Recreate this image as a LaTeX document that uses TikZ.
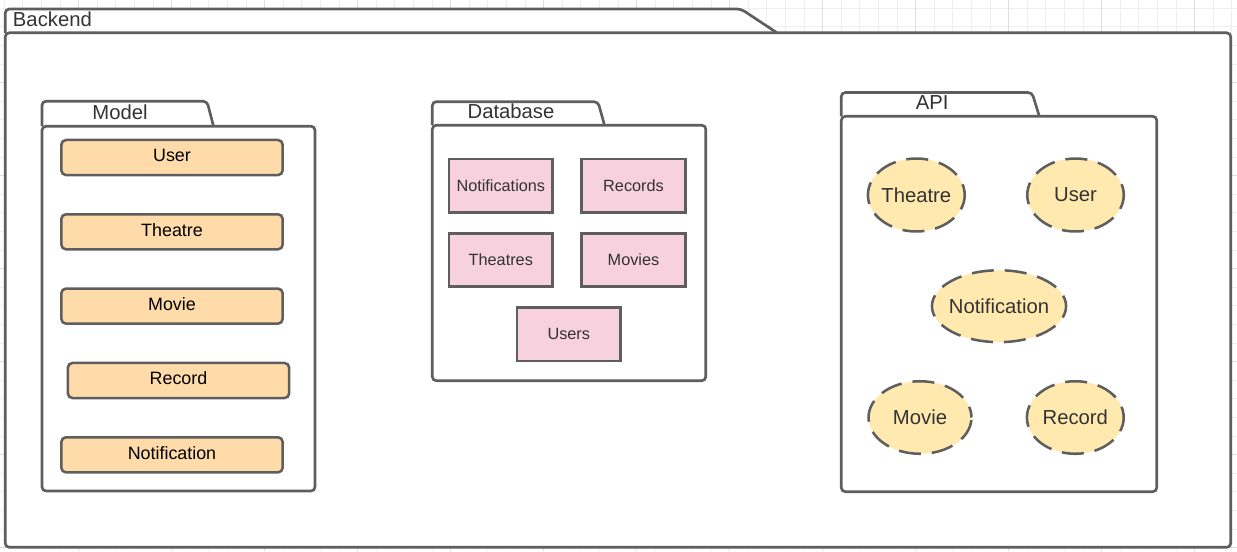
\documentclass[tikz,border=0pt]{standalone}
\usepackage{fontspec}
\setmainfont{Liberation Sans}
\usetikzlibrary{shapes.geometric}
\definecolor{linec}{HTML}{5E5E5E}
\definecolor{txtc}{HTML}{333333}
\definecolor{peach}{HTML}{FFDBA9}
\definecolor{pinkc}{HTML}{F8D1DE}
\definecolor{yelc}{HTML}{FFE9AF}
\definecolor{gridminor}{HTML}{EEEEEE}
\definecolor{gridmajor}{HTML}{DEDEDE}
\tikzset{
  pkgline/.style={draw=linec, line width=2pt, fill=white, rounded corners=3pt},
  pkglabel/.style={inner sep=0pt, text=txtc, font=\fontsize{15.2}{18}\selectfont},
  modelbox/.style={draw=linec, line width=1.9pt, fill=peach, rounded corners=3.5pt,
    minimum width=166pt, minimum height=26.3pt, inner sep=0pt,
    text depth=3.45pt, text height=9.75pt, font=\fontsize{13.4}{16}\selectfont, text=black},
  dbbox/.style={draw=linec, line width=2pt, fill=pinkc, minimum width=77.7pt,
    minimum height=40.2pt, inner sep=0pt, font=\fontsize{12.2}{14}\selectfont, text=txtc},
  apiell/.style={ellipse, draw=linec, line width=1.9pt, fill=yelc,
    dash pattern=on 16.5pt off 8.25pt, dash phase=8.25pt, inner sep=0pt,
    minimum height=54.7pt, font=\fontsize{15.2}{18}\selectfont, text=txtc},
  gridmin/.style={draw=gridminor, line width=0.75pt},
  gridmaj/.style={draw=gridmajor, line width=0.75pt},
}
\begin{document}
\begin{tikzpicture}[x=0.75pt, y=-0.75pt]
\useasboundingbox (0,0) rectangle (1237,551);
\fill[white] (0,0) rectangle (1237,551);
% background grid
\foreach \i in {0,...,66} \draw[gridmin] ({4.3+18.6*\i},0) -- ({4.3+18.6*\i},551);
\foreach \j in {0,...,29} \draw[gridmin] (0,{8.3+18.6*\j}) -- (1237,{8.3+18.6*\j});
\foreach \i in {0,...,13} \draw[gridmaj] ({78.7+93*\i},0) -- ({78.7+93*\i},551);
\foreach \j in {0,...,5} \draw[gridmaj] (0,{82.7+93*\j}) -- (1237,{82.7+93*\j});

% Backend package
\path[pkgline] (5.3,32.8) -- (5.3,9) -- (741,9) -- (777,32.8);
\path[pkgline] (5.3,32.8) rectangle (1230.7,547.3);
\node[pkglabel, anchor=base west] (backendlbl) at (12.7,26) {Backend};

% Model package
\path[pkgline] (42,126.2) -- (42,101.2) -- (207,101.2) -- (213.5,126.2);
\path[pkgline] (42,126.2) rectangle (315,491);
\node[pkglabel, anchor=base] (modellbl) at (120,119) {Model};
\node[modelbox] (muser) at (172,157.5) {User};
\node[modelbox] (mtheatre) at (172,231.8) {Theatre};
\node[modelbox] (mmovie) at (172,306.1) {Movie};
\node[modelbox] (mrecord) at (178.5,380.5) {Record};
\node[modelbox] (mnotif) at (172,454.8) {Notification};

% Database package
\path[pkgline] (432.3,125.2) -- (432.3,101.7) -- (598,101.7) -- (604.5,125.2);
\path[pkgline] (432.3,125.2) rectangle (705.8,380.7);
\node[pkglabel, anchor=base] (dblbl) at (511,118.3) {Database};
\node[dbbox] (dnotif) at (500.8,185.8) {Notifications};
\node[dbbox] (drecords) at (633.5,185.8) {Records};
\node[dbbox] (dtheatres) at (500.8,260) {Theatres};
\node[dbbox] (dmovies) at (633.5,260) {Movies};
\node[dbbox] (dusers) at (568.8,334.2) {Users};

% API package
\path[pkgline] (841.3,116.3) -- (841.3,92.5) -- (1032,92.5) -- (1039.3,116.3);
\path[pkgline] (841.3,116.3) rectangle (1156.7,491.7);
\node[pkglabel, anchor=base] (apilbl) at (932.2,109.3) {API};
\node[apiell, minimum width=72.6pt] (atheatre) at (916.3,195) {\makebox[0pt]{Theatre}};
\node[apiell, minimum width=72.4pt] (auser) at (1075.5,195) {\makebox[0pt]{User}};
\node[apiell, minimum width=100.6pt, minimum height=53.9pt] (anotif) at (999,306.2) {\makebox[0pt]{Notification}};
\node[apiell, minimum width=77.2pt, minimum height=54.4pt] (amovie) at (920,417.5) {\makebox[0pt]{Movie}};
\node[apiell, minimum width=72.6pt, minimum height=54.4pt] (arecord) at (1075.3,417.5) {\makebox[0pt]{Record}};
\end{tikzpicture}
\end{document}
